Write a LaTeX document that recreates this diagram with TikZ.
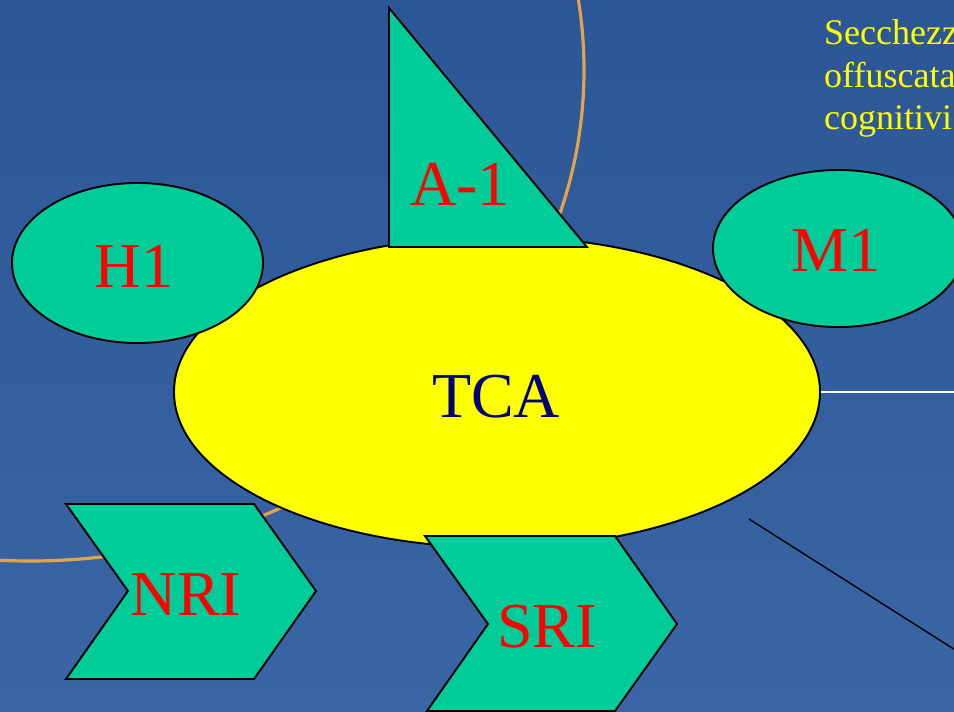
\documentclass[tikz,border=0pt]{standalone}
\usepackage{fontspec}
\setmainfont{Liberation Serif}
\usetikzlibrary{shapes.geometric}
\definecolor{seatop}{RGB}{44,86,150}
\definecolor{seabottom}{RGB}{58,102,166}
\definecolor{jade}{RGB}{0,204,153}
\definecolor{lemon}{RGB}{255,255,0}
\definecolor{scarlet}{RGB}{255,0,0}
\definecolor{navytext}{RGB}{0,0,120}
\definecolor{ring}{RGB}{226,164,74}
\tikzset{
  shapebox/.style={draw=black, line width=1.9pt, fill=jade, line join=miter},
  blob/.style={ellipse, shapebox, inner sep=0pt},
  lbl/.style={anchor=base, inner sep=0pt, text=scarlet, font=\fontsize{64}{64}\selectfont},
  note/.style={anchor=base west, inner sep=0pt, text=lemon, font=\fontsize{36}{42}\selectfont},
}
\begin{document}
\begin{tikzpicture}[x=1pt,y=-1pt]
  \useasboundingbox (0,0) rectangle (954,712);
  \clip (0,0) rectangle (954,712);
  % backdrop
  \shade[top color=seatop, bottom color=seabottom] (0,0) rectangle (954,712);
  % thin orange ring behind the diagram
  \draw[ring, line width=3.2pt] (30,70) ellipse [x radius=554, y radius=491];

  % central ellipse
  \node[ellipse, draw=black, line width=1.9pt, fill=lemon, inner sep=0pt,
        minimum width=646pt, minimum height=311pt] (tca) at (497,392) {};
  \node[lbl, text=navytext] (tcalbl) at (496,417) {TCA};

  % satellites
  \node[blob, minimum width=251pt, minimum height=160pt] (h1) at (137.5,263) {};
  \node[lbl] (h1lbl) at (134,287) {H1};

  \node[blob, minimum width=251pt, minimum height=157pt] (m1) at (838.5,248.5) {};
  \node[lbl] (m1lbl) at (836,271) {M1};

  \draw[shapebox] (389,8) coordinate (a1top) -- (389,247) coordinate (a1bl)
        -- (587,247) coordinate (a1br) -- cycle;
  \node[lbl] (a1lbl) at (460,205) {A-1};

  \draw[shapebox] (66,504) -- (254,504) -- (316,591) -- (254,679) -- (66,679)
        -- (128,591) -- cycle;
  \node[lbl] (nrilbl) at (186,615) {NRI};

  \draw[shapebox] (425,536) -- (615,536) -- (677,624) -- (615,711) -- (427,711)
        -- (488,624) -- cycle;
  \node[lbl] (srilbl) at (547,647) {SRI};

  % leader lines to the right
  \coordinate (wend) at (960,392);
  \draw[white, line width=2pt] (tca.east) -- (wend);
  \coordinate (bstart) at (749,519);
  \coordinate (bend) at (960,653);
  \draw[black, line width=1.4pt] (bstart) -- (bend);

  % side notes, running off the right edge
  \node[note] (n1) at (824,44) {Secchezz};
  \node[note] (n2) at (824,87) {offuscata};
  \node[note] (n3) at (824,129) {cognitivi};
\end{tikzpicture}
\end{document}
